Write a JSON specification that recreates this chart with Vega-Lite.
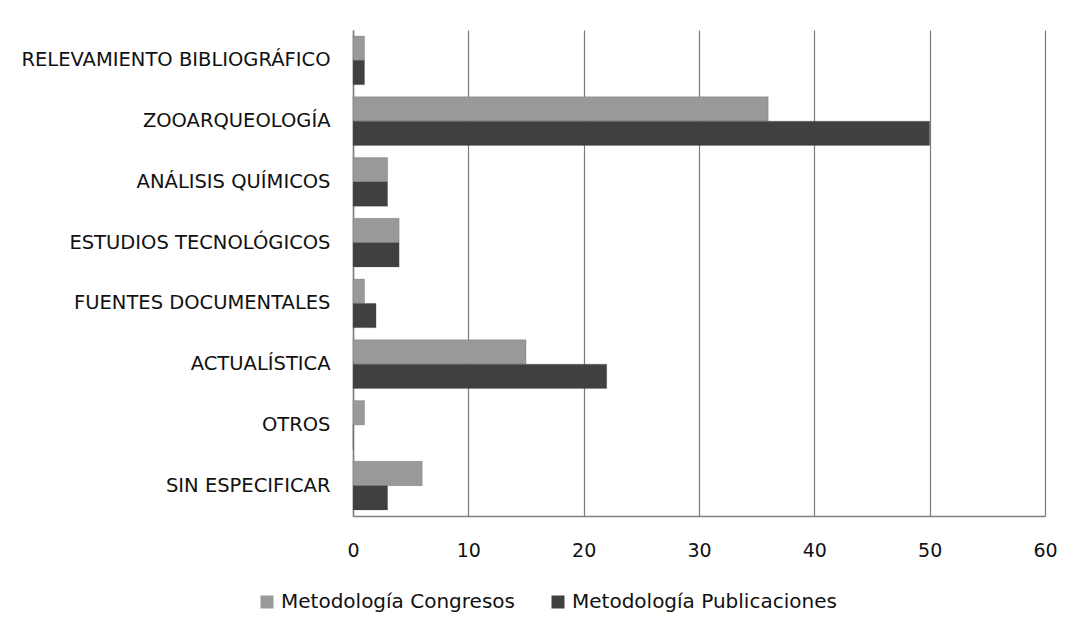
{
  "$schema": "https://vega.github.io/schema/vega-lite/v6.json",
  "autosize": {"type": "none"},
  "width": 692,
  "height": 486,
  "padding": {"left": 353, "top": 30, "right": 42, "bottom": 122},
  "background": "white",
  "config": {
    "font": "DejaVu Sans",
    "view": {"stroke": null}
  },
  "data": {
    "values": [
      {"categoria": "RELEVAMIENTO BIBLIOGRÁFICO", "serie": "Metodología Congresos", "valor": 1},
      {"categoria": "RELEVAMIENTO BIBLIOGRÁFICO", "serie": "Metodología Publicaciones", "valor": 1},
      {"categoria": "ZOOARQUEOLOGÍA", "serie": "Metodología Congresos", "valor": 36},
      {"categoria": "ZOOARQUEOLOGÍA", "serie": "Metodología Publicaciones", "valor": 50},
      {"categoria": "ANÁLISIS QUÍMICOS", "serie": "Metodología Congresos", "valor": 3},
      {"categoria": "ANÁLISIS QUÍMICOS", "serie": "Metodología Publicaciones", "valor": 3},
      {"categoria": "ESTUDIOS TECNOLÓGICOS", "serie": "Metodología Congresos", "valor": 4},
      {"categoria": "ESTUDIOS TECNOLÓGICOS", "serie": "Metodología Publicaciones", "valor": 4},
      {"categoria": "FUENTES DOCUMENTALES", "serie": "Metodología Congresos", "valor": 1},
      {"categoria": "FUENTES DOCUMENTALES", "serie": "Metodología Publicaciones", "valor": 2},
      {"categoria": "ACTUALÍSTICA", "serie": "Metodología Congresos", "valor": 15},
      {"categoria": "ACTUALÍSTICA", "serie": "Metodología Publicaciones", "valor": 22},
      {"categoria": "OTROS", "serie": "Metodología Congresos", "valor": 1},
      {"categoria": "OTROS", "serie": "Metodología Publicaciones", "valor": 0},
      {"categoria": "SIN ESPECIFICAR", "serie": "Metodología Congresos", "valor": 6},
      {"categoria": "SIN ESPECIFICAR", "serie": "Metodología Publicaciones", "valor": 3}
    ]
  },
  "mark": {"type": "bar", "stroke": "#555555", "strokeWidth": 0.5, "strokeOpacity": 0.5},
  "encoding": {
    "y": {
      "field": "categoria",
      "type": "nominal",
      "sort": null,
      "title": null,
      "scale": {"paddingInner": 0.2, "paddingOuter": 0.1},
      "axis": {
        "domainColor": "#808080",
        "domainWidth": 1.5,
        "ticks": false,
        "labelPadding": 23,
        "labelFontSize": 19.5,
        "labelLimit": 0,
        "labelColor": "#111111",
        "labelFont": "DejaVu Sans",
        "grid": false
      }
    },
    "x": {
      "field": "valor",
      "type": "quantitative",
      "title": null,
      "scale": {"domain": [0, 60], "nice": false},
      "axis": {
        "values": [0, 10, 20, 30, 40, 50, 60],
        "grid": true,
        "gridColor": "#7a7a7a",
        "gridWidth": 1.2,
        "domainColor": "#808080",
        "domainWidth": 1.5,
        "ticks": false,
        "labelFlush": false,
        "labelPadding": 25,
        "labelFontSize": 19,
        "labelColor": "#111111",
        "labelFont": "DejaVu Sans"
      }
    },
    "yOffset": {"field": "serie", "type": "nominal", "sort": ["Metodología Congresos", "Metodología Publicaciones"]},
    "color": {
      "field": "serie",
      "type": "nominal",
      "scale": {
        "domain": ["Metodología Congresos", "Metodología Publicaciones"],
        "range": ["#999999", "#404040"]
      },
      "legend": {
        "title": null,
        "orient": "none",
        "direction": "horizontal",
        "legendX": -96,
        "legendY": 562,
        "symbolType": "square",
        "symbolSize": 169,
        "symbolStrokeWidth": 0,
        "labelFontSize": 20,
        "labelLimit": 0,
        "labelFont": "DejaVu Sans",
        "labelColor": "#111111",
        "columnPadding": 33,
        "labelOffset": 4
      }
    }
  }
}
